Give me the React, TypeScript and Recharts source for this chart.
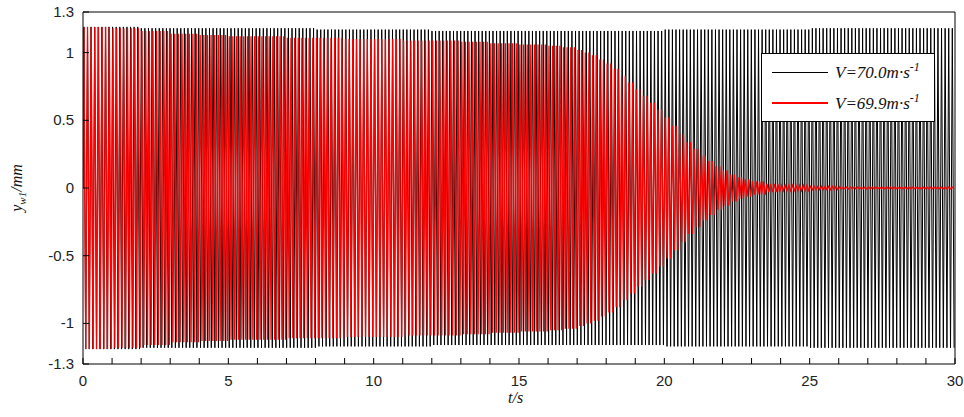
import { LineChart, Line, XAxis, YAxis } from "recharts";

// tick values
const xTicks = [0, 1, 2, 3, 4, 5, 6, 7, 8, 9, 10, 11, 12, 13, 14, 15, 16, 17, 18, 19, 20, 21, 22, 23, 24, 25, 26, 27, 28, 29, 30];
const xLabelTicks = [0, 5, 10, 15, 20, 25, 30];
const yTicks = [-1.3, -1, -0.5, 0, 0.5, 1, 1.3];

// oscillation rate (cycles per second) counted from the picture
const blackRate = 8.1;
const redRate = 8.0;

// amplitude envelope of V=70.0 (black)
const blackEnvT = [0, 2, 5, 8, 10, 12, 15, 18, 20, 22, 25, 28, 30];
const blackEnvA = [1.19, 1.18, 1.18, 1.17, 1.17, 1.16, 1.16, 1.16, 1.17, 1.17, 1.18, 1.18, 1.18];

// amplitude envelope of V=69.9 (red), denser readings through the decay
const redEnvT = [0, 1, 2, 3, 4, 5, 6, 7, 8, 9, 10, 11, 12, 13, 14, 15, 16, 16.5, 17, 17.25, 17.5, 17.75, 18, 18.25, 18.5, 18.75, 19, 19.25, 19.5, 19.75, 20, 20.25, 20.5, 20.75, 21, 21.25, 21.5, 21.75, 22, 22.25, 22.5, 22.75, 23, 23.5, 24, 25, 26, 27];
const redEnvA = [1.19, 1.18, 1.16, 1.14, 1.13, 1.12, 1.12, 1.11, 1.11, 1.1, 1.1, 1.09, 1.09, 1.08, 1.07, 1.06, 1.05, 1.04, 1.02, 1.0, 0.98, 0.95, 0.92, 0.88, 0.83, 0.78, 0.73, 0.68, 0.63, 0.58, 0.52, 0.46, 0.4, 0.34, 0.29, 0.24, 0.2, 0.16, 0.13, 0.1, 0.08, 0.065, 0.05, 0.03, 0.02, 0.012, 0.008, 0.006];

function envAt(ts: number[], as: number[], t: number) {
  let a = as[0];
  for (let i = 0; i < ts.length; i++) if (ts[i] <= t) a = as[i];
  return a;
}

// peak / trough table for the library
function peaks(ts: number[], as: number[], rate: number) {
  const out = [{ t: 0, v: 0 }];
  for (let k = 0; ; k++) {
    const tUp = (k + 0.25) / rate;
    const tDn = (k + 0.75) / rate;
    if (tUp > 30) break;
    out.push({ t: tUp, v: envAt(ts, as, tUp) });
    if (tDn > 30) break;
    out.push({ t: tDn, v: -envAt(ts, as, tDn) });
  }
  return out;
}

const blackData = peaks(blackEnvT, blackEnvA, blackRate);
const redData = peaks(redEnvT, redEnvA, redRate);

const tickFont = { fontFamily: "'Liberation Sans', Arial, sans-serif", fontSize: 15, fill: "#222" };

const BottomTick = (p: any) => {
  const v = p.payload.value;
  return (
    <g>
      <line x1={p.x} x2={p.x} y1={p.y} y2={p.y - 6} stroke="#000" />
      {xLabelTicks.includes(v) && (
        <text x={p.x} y={p.y + 22} textAnchor="middle" {...tickFont}>{v}</text>
      )}
    </g>
  );
};
const TopTick = (p: any) => <line x1={p.x} x2={p.x} y1={p.y} y2={p.y + 6} stroke="#000" />;
const LeftTick = (p: any) => (
  <g>
    <line x1={p.x} x2={p.x + 6} y1={p.y} y2={p.y} stroke="#000" />
    <text x={p.x - 9} y={p.y + 5} textAnchor="end" {...tickFont}>{String(p.payload.value)}</text>
  </g>
);
const RightTick = (p: any) => <line x1={p.x} x2={p.x - 6} y1={p.y} y2={p.y} stroke="#000" />;

const legendText = { fontFamily: "'Liberation Serif', 'Times New Roman', serif", fontStyle: "italic", fontSize: 17, color: "#111" };

export default function App() {
  return (
    <div style={{ position: "absolute", left: 0, top: 0, width: 964, height: 417, background: "#fff" }}>
      <LineChart width={964} height={417} margin={{ top: 11, right: 8, bottom: 23, left: 43 }}>
        <XAxis xAxisId="b" dataKey="t" type="number" domain={[0, 30]} ticks={xTicks} interval={0}
          height={30} tickSize={0} tickMargin={0} tickLine={false} tick={BottomTick}
          axisLine={{ stroke: "#000" }} allowDataOverflow />
        <XAxis xAxisId="top" orientation="top" dataKey="t" type="number" domain={[0, 30]} ticks={xTicks} interval={0}
          height={1} tickSize={0} tickMargin={0} tickLine={false} tick={TopTick}
          axisLine={{ stroke: "#000" }} />
        <YAxis yAxisId="l" type="number" domain={[-1.3, 1.3]} ticks={yTicks} interval={0}
          width={40} tickSize={0} tickMargin={0} tickLine={false} tick={LeftTick}
          axisLine={{ stroke: "#000" }} allowDataOverflow />
        <YAxis yAxisId="r" orientation="right" type="number" domain={[-1.3, 1.3]} ticks={yTicks} interval={0}
          width={1} tickSize={0} tickMargin={0} tickLine={false} tick={RightTick}
          axisLine={{ stroke: "#000" }} />
        <Line xAxisId="b" yAxisId="l" data={blackData} dataKey="v" type="linear" stroke="#000000"
          strokeWidth={1} dot={false} isAnimationActive={false} />
        <Line xAxisId="b" yAxisId="l" data={redData} dataKey="v" type="linear" stroke="#ff0000"
          strokeWidth={1.3} dot={false} isAnimationActive={false} />
      </LineChart>

      <div style={{ position: "absolute", left: 761, top: 53, width: 172, height: 67, border: "1px solid #000", background: "#fff" }}>
        <div style={{ position: "absolute", left: 10, top: 18, width: 56, height: 1, background: "#000" }} />
        <div style={{ position: "absolute", left: 73, top: 6, whiteSpace: "nowrap", ...legendText }}>
          V=70.0m·s<sup style={{ fontSize: 12 }}>-1</sup>
        </div>
        <div style={{ position: "absolute", left: 10, top: 48, width: 56, height: 2, background: "#ff0000" }} />
        <div style={{ position: "absolute", left: 73, top: 37, whiteSpace: "nowrap", ...legendText }}>
          V=69.9m·s<sup style={{ fontSize: 12 }}>-1</sup>
        </div>
      </div>

      <div style={{ position: "absolute", left: 508, top: 389, ...legendText, fontSize: 16 }}>t/s</div>
      <div style={{ position: "absolute", left: 18, top: 188, transform: "translate(-50%, -50%) rotate(-90deg)", whiteSpace: "nowrap", ...legendText, fontSize: 16 }}>
        y<sub style={{ fontSize: 11 }}>w1</sub>/mm
      </div>
    </div>
  );
}
